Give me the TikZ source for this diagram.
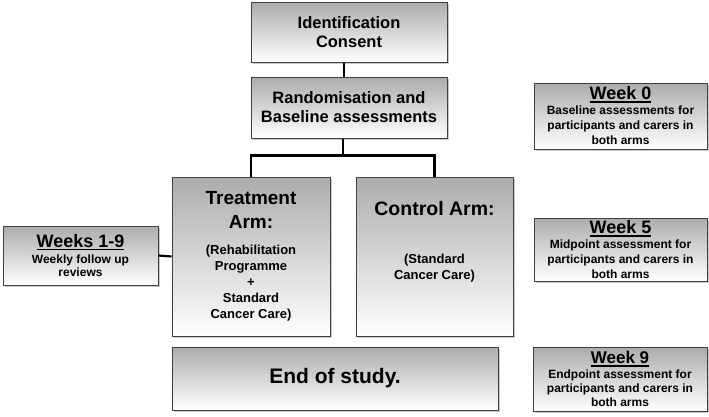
\documentclass[tikz,border=0pt]{standalone}
\usepackage{fontspec}
\setmainfont{Liberation Sans}
\usetikzlibrary{shadows}
\newcommand\myul[1]{\vtop{\hbox{#1}\kern1.3pt\hrule height 1.6pt}}
\newcommand\fs[2]{\fontsize{#1}{#2}\selectfont}
\begin{document}
\begin{tikzpicture}[x=1pt,y=-1pt,
  box/.style={draw=gray!50!black, line width=1pt, top color=gray!65, bottom color=white,
    drop shadow={shadow xshift=2pt, shadow yshift=-2pt, fill=gray!60, opacity=0.7},
    inner sep=0pt, align=center, font=\bfseries},
  txt/.style={align=center, font=\bfseries, inner sep=0pt},
  conn/.style={line width=2.2pt, black}]
\useasboundingbox[fill=white] (0,0) rectangle (709,416);
% main column
\node[box, minimum width=196pt, minimum height=60pt, font=\bfseries\fs{16.5}{19}] (id) at (349,32) {Identification\\Consent};
\node[box, minimum width=196pt, minimum height=61pt, font=\bfseries\fs{16.5}{19}] (rand) at (349,107.5) {Randomisation and\\Baseline assessments};
\node[box, minimum width=158pt, minimum height=159pt, font=\bfseries\fs{13}{16}] (treat) at (251,256.5)
  {\fs{19}{24}Treatment\\[8pt]\fs{19}{24}Arm:\\[10pt]\fs{13}{16}(Rehabilitation\\Programme\\+\\Standard\\Cancer Care)};
\node[box, minimum width=157pt, minimum height=159pt] (control) at (434.5,256.5) {};
\node[txt, font=\bfseries\fs{13}{16}] (ctext) at (434.5,242) {\fs{19.5}{24}Control Arm:\\[32pt]\fs{13}{16}(Standard\\Cancer Care)};
\node[box, minimum width=326pt, minimum height=63pt, font=\bfseries\fs{21}{26}] (end) at (335,378.5) {End of study.};
% side boxes
\node[box, minimum width=155pt, minimum height=59pt, font=\bfseries\fs{12}{13.5}] (w19) at (80.5,255.5)
  {\fs{18}{20}\myul{Weeks 1-9}\\[2.5pt]\fs{12}{13.5}Weekly follow up\\reviews};
\node[box, minimum width=173pt, minimum height=66pt, font=\bfseries\fs{12}{15}] (w0) at (620.5,116)
  {\fs{18}{20}\myul{Week 0}\\\fs{12}{15}Baseline assessments for\\participants and carers in\\both arms};
\node[box, minimum width=173pt, minimum height=63pt, font=\bfseries\fs{12}{15}] (w5) at (620.5,249.5)
  {\fs{18}{20}\myul{Week 5}\\\fs{12}{15}Midpoint assessment for\\participants and carers in\\both arms};
\node[box, minimum width=174pt, minimum height=64pt, font=\bfseries\fs{12}{14}] (w9) at (620,379)
  {\fs{17}{19}\myul{Week 9}\\[1pt]\fs{12}{14}Endpoint assessment for\\participants and carers in\\both arms};
% connectors
\draw[conn] ([xshift=-5pt]id.south) -- ([xshift=-5pt]rand.north);
\coordinate (j) at ([xshift=-6pt,yshift=-17pt]rand.south);
\draw[conn] ([xshift=-6pt]rand.south) -- (j);
\draw[conn] (treat.north) |- (j) -| (control.north);
\draw[conn] (w19.east) -- (treat.west);
\end{tikzpicture}
\end{document}
